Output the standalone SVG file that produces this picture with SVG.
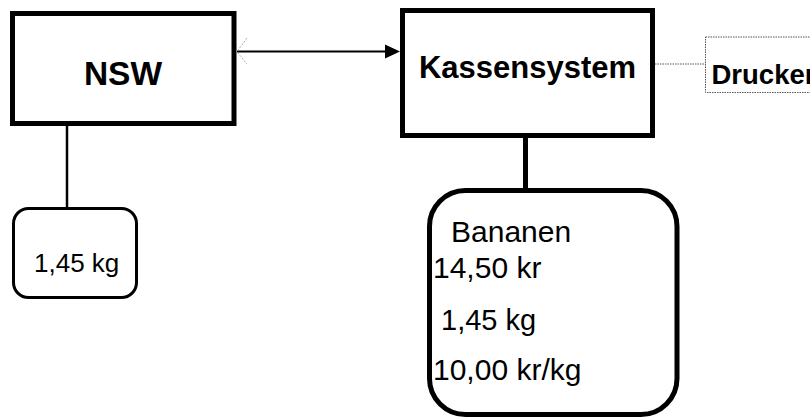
<svg xmlns="http://www.w3.org/2000/svg" width="810" height="417" viewBox="0 0 810 417">
<style>
.box{fill:#fff;stroke:#000;stroke-width:5}
.b{font-family:"Liberation Sans",Arial,sans-serif;font-weight:bold;fill:#000}
.r{font-family:"Liberation Sans",Arial,sans-serif;fill:#000}
.dot{fill:none;stroke:#555;stroke-width:1;stroke-dasharray:1.5 1}
</style>
<defs>
<marker id="ah" markerWidth="10" markerHeight="10" refX="9" refY="5" orient="auto" markerUnits="userSpaceOnUse">
<path d="M0,0 L10,5 L0,10 Z" fill="#000"/>
</marker>
</defs>
<rect width="810" height="417" fill="#fff"/>
<g id="connectors">
<line x1="237" y1="51.5" x2="386" y2="51.5" stroke="#000" stroke-width="2"/>
<path d="M385,44.5 L400,51.5 L385,58.5 Z" fill="#000"/>
<path d="M247,38 L237.5,51 M237.5,52.5 L247,64" fill="none" stroke="#aaa" stroke-width="1" stroke-dasharray="2 1.5"/>
<line x1="67" y1="126" x2="67" y2="208" stroke="#000" stroke-width="2.5"/>
<line x1="525.5" y1="138" x2="525.5" y2="190" stroke="#000" stroke-width="5"/>
<line x1="655" y1="64" x2="705.5" y2="64" class="dot"/>
</g>
<g id="nsw">
<rect class="box" x="12.5" y="13.5" width="221.5" height="110"/>
<text class="b" x="123" y="84.5" font-size="33.5" text-anchor="middle">NSW</text>
</g>
<g id="kassensystem">
<rect class="box" x="402.5" y="10.5" width="250" height="125"/>
<text class="b" x="527.5" y="78" font-size="31" text-anchor="middle">Kassensystem</text>
</g>
<g id="drucker">
<rect class="dot" x="705.5" y="37" width="120" height="55.5"/>
<text class="b" x="711.5" y="84" font-size="27.5">Drucker</text>
</g>
<g id="waage">
<rect x="13.5" y="208.5" width="123" height="89" rx="15" ry="15" fill="#fff" stroke="#000" stroke-width="3"/>
<text class="r" x="34" y="272" font-size="26">1,45 kg</text>
</g>
<g id="display">
<rect class="box" x="429.5" y="190.5" width="247.5" height="224" rx="36" ry="36"/>
<text class="r" x="451" y="242" font-size="30">Bananen</text>
<text class="r" x="433" y="278" font-size="30">14,50 kr</text>
<text class="r" x="441" y="330" font-size="29">1,45 kg</text>
<text class="r" x="433" y="380" font-size="30">10,00 kr/kg</text>
</g>
</svg>
